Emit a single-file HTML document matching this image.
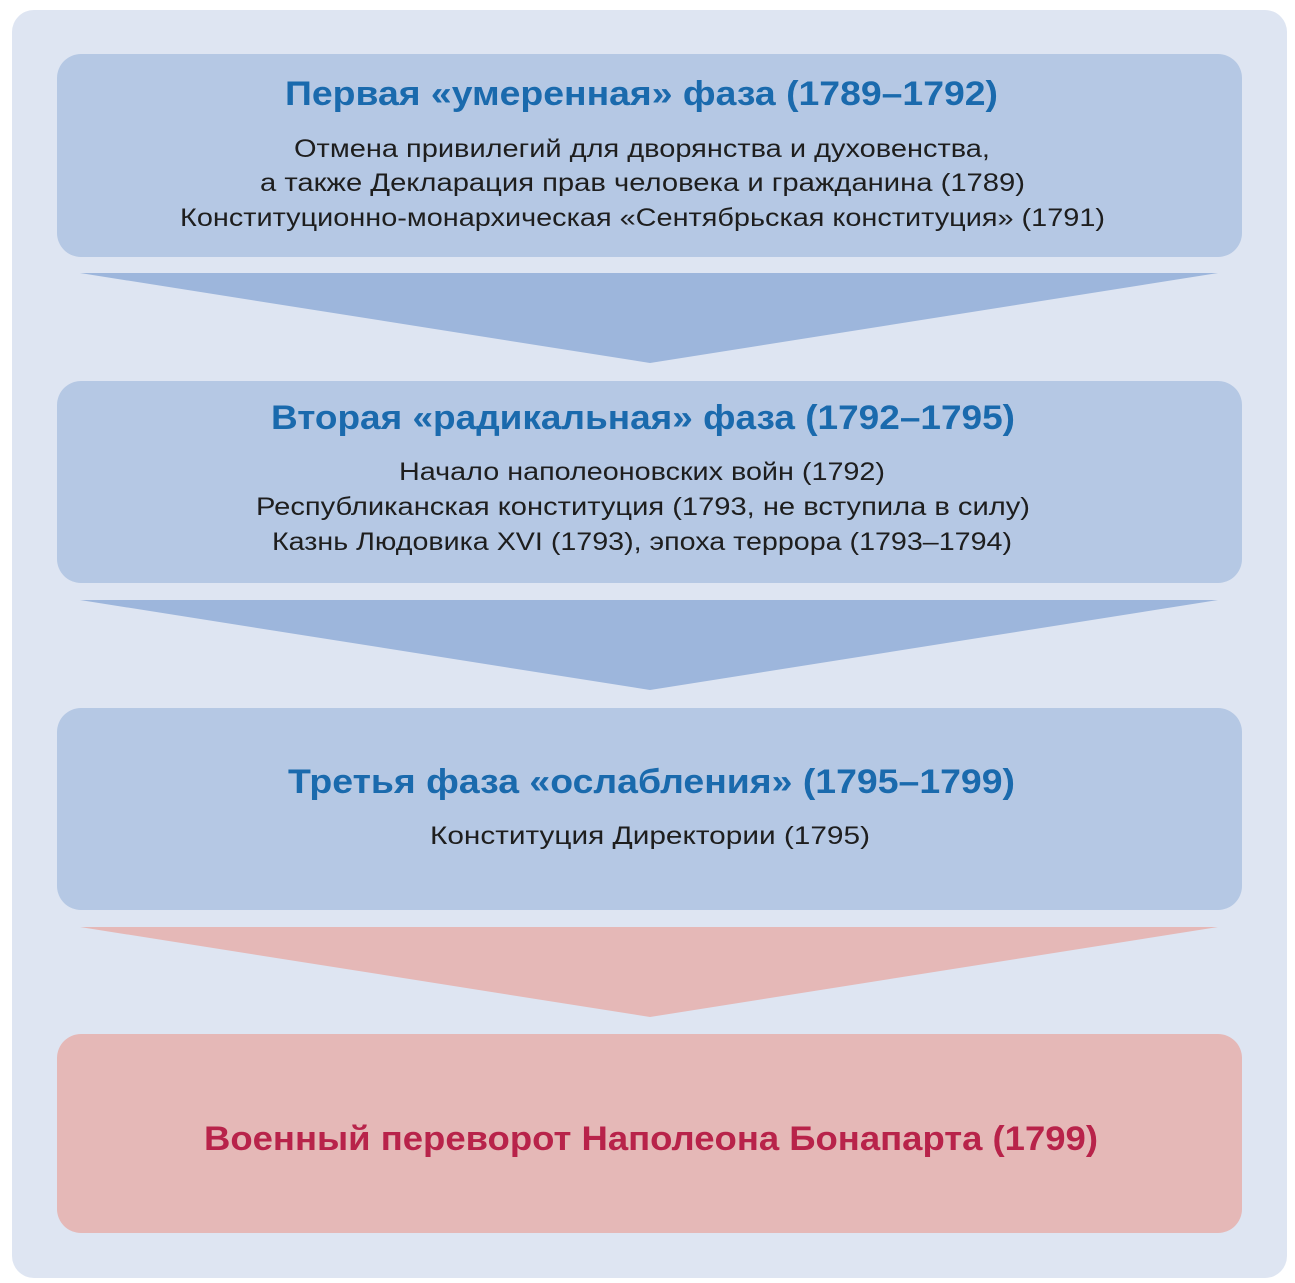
<!DOCTYPE html>
<html><head><meta charset="utf-8"><style>
html,body{margin:0;padding:0;background:#fff;}
svg{display:block;}
text{font-family:"Liberation Sans","DejaVu Sans",sans-serif;}
.t{font-weight:bold;font-size:34px;fill:#1a6aad;}
.b{font-size:25px;fill:#1e1e1e;}
</style></head><body>
<svg width="1295" height="1283" viewBox="0 0 1295 1283" xmlns="http://www.w3.org/2000/svg">
<rect x="12" y="10" width="1275" height="1268" rx="22" fill="#dee5f2"/>
<rect x="57" y="54" width="1185" height="203" rx="24" fill="#b5c8e4"/>
<rect x="57" y="381" width="1185" height="202" rx="24" fill="#b5c8e4"/>
<rect x="57" y="708" width="1185" height="202" rx="24" fill="#b5c8e4"/>
<rect x="57" y="1034" width="1185" height="199" rx="24" fill="#e5b8b7"/>
<polygon points="80,273 1218,273 650,363" fill="#9db6dc"/>
<polygon points="80,600 1218,600 650,690" fill="#9db6dc"/>
<polygon points="80,927 1218,927 650,1017" fill="#e5b8b7"/>

<text class="t" x="285" y="105" textLength="713" lengthAdjust="spacingAndGlyphs">Первая «умеренная» фаза (1789–1792)</text>
<text class="b" x="294" y="157" textLength="696" lengthAdjust="spacingAndGlyphs">Отмена привилегий для дворянства и духовенства,</text>
<text class="b" x="260" y="191" textLength="765" lengthAdjust="spacingAndGlyphs">а также Декларация прав человека и гражданина (1789)</text>
<text class="b" x="180" y="226" textLength="925" lengthAdjust="spacingAndGlyphs">Конституционно-монархическая «Сентябрьская конституция» (1791)</text>

<text class="t" x="271" y="429" textLength="744" lengthAdjust="spacingAndGlyphs">Вторая «радикальная» фаза (1792–1795)</text>
<text class="b" x="399" y="480" textLength="486" lengthAdjust="spacingAndGlyphs">Начало наполеоновских войн (1792)</text>
<text class="b" x="256" y="515" textLength="774" lengthAdjust="spacingAndGlyphs">Республиканская конституция (1793, не вступила в силу)</text>
<text class="b" x="272" y="550" textLength="740" lengthAdjust="spacingAndGlyphs">Казнь Людовика XVI (1793), эпоха террора (1793–1794)</text>

<text class="t" x="288" y="793" textLength="727" lengthAdjust="spacingAndGlyphs">Третья фаза «ослабления» (1795–1799)</text>
<text class="b" x="430" y="844" textLength="440" lengthAdjust="spacingAndGlyphs">Конституция Директории  (1795)</text>

<text class="t" x="204" y="1150" textLength="894" lengthAdjust="spacingAndGlyphs" style="fill:#b8234a">Военный переворот Наполеона Бонапарта (1799)</text>
</svg>
</body></html>
